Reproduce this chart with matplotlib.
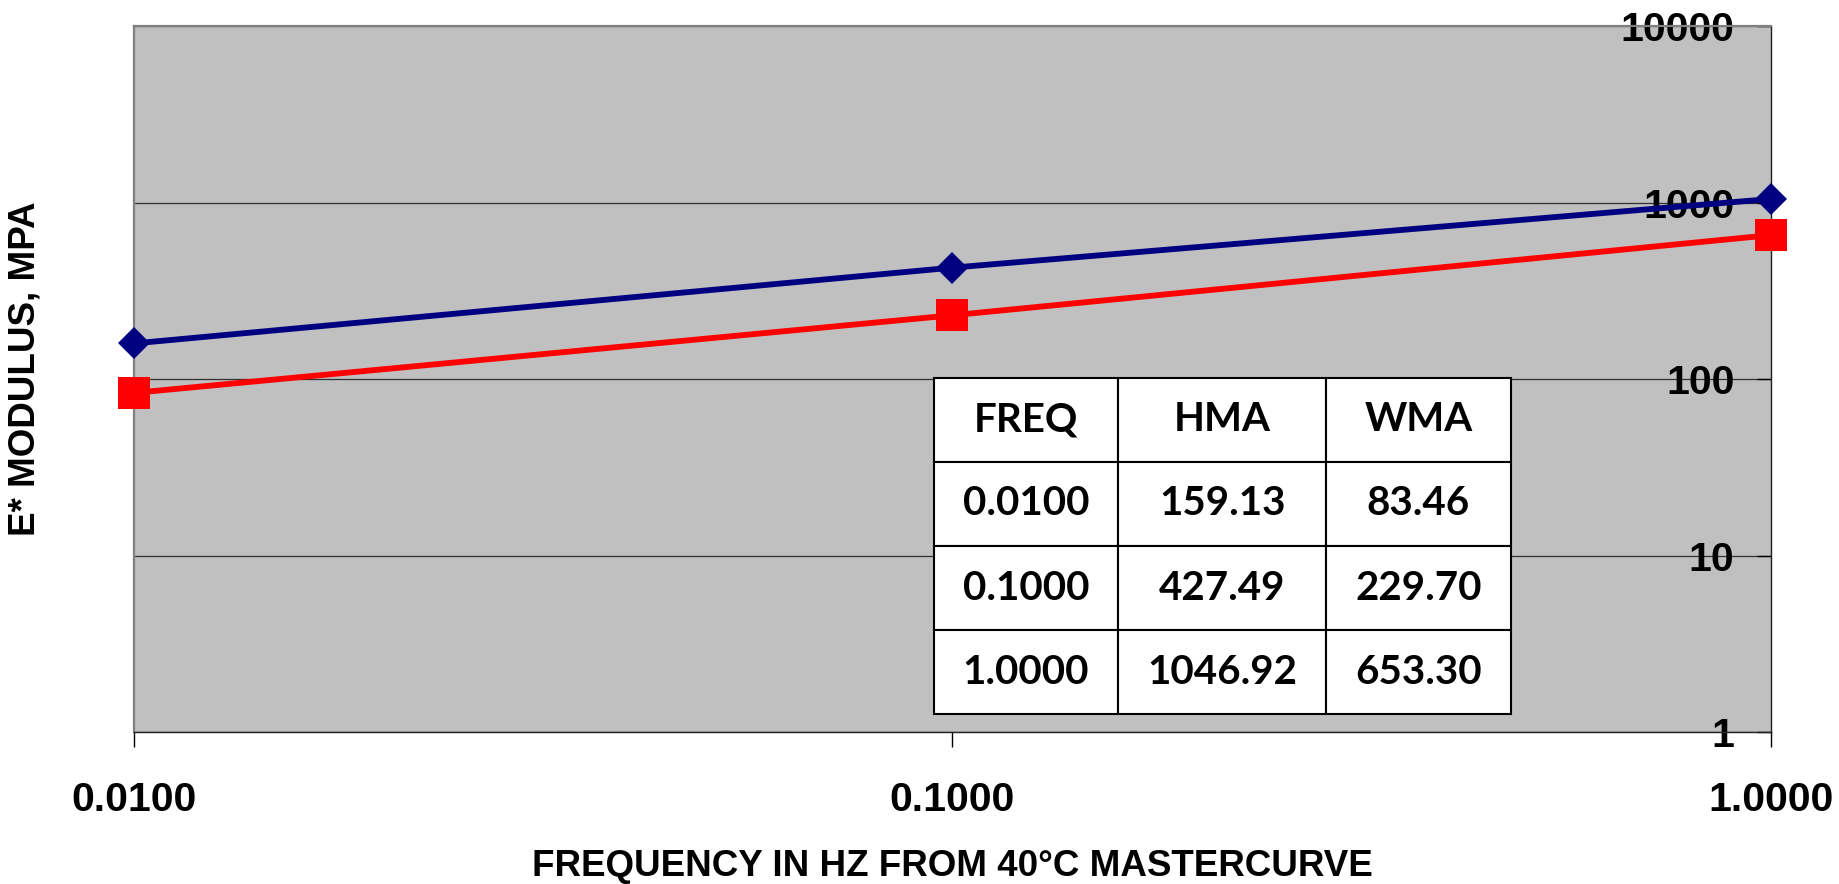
import matplotlib
matplotlib.use("Agg")
import matplotlib.pyplot as plt
from matplotlib.ticker import FixedLocator, NullLocator

# Data
freq = [0.01, 0.1, 1.0]
hma = [159.13, 427.49, 1046.92]
wma = [83.46, 229.70, 653.30]
x_tick_labels = ["0.0100", "0.1000", "1.0000"]
y_ticks = [1, 10, 100, 1000, 10000]
y_tick_labels = ["1", "10", "100", "1000", "10000"]
table_header = ["FREQ", "HMA", "WMA"]

plt.rcParams['font.family'] = ['Liberation Sans', 'DejaVu Sans']

fig = plt.figure(figsize=(18.39, 8.84), dpi=100)
ax = fig.add_axes([0.0729, 0.1719, 0.8899, 0.7987])
ax.set_facecolor('#C0C0C0')

ax.set_xscale('log')
ax.set_yscale('log')
ax.set_xlim(0.01, 1.0)
ax.set_ylim(1, 10000)

ax.plot(freq, hma, color='#000080', lw=4.2, marker='D', ms=16.8,
        markeredgewidth=0, clip_on=False, zorder=5)
ax.plot(freq, wma, color='#FF0000', lw=4.2, marker='s', ms=23.5,
        markeredgewidth=0, clip_on=False, zorder=5)

# x axis
ax.xaxis.set_major_locator(FixedLocator(freq))
ax.xaxis.set_minor_locator(NullLocator())
ax.set_xticklabels(x_tick_labels)
ax.tick_params(axis='x', direction='out', length=11, width=1, color='black',
               pad=24, labelsize=29.5)
for lab in ax.get_xticklabels():
    lab.set_fontweight('bold')

# y axis on the right, labels inside
ax.yaxis.tick_right()
ax.yaxis.set_major_locator(FixedLocator(y_ticks))
ax.yaxis.set_minor_locator(NullLocator())
ax.set_yticklabels(y_tick_labels)
ax.tick_params(axis='y', direction='in', length=10, width=1, color='black',
               pad=-26, labelsize=29.5)
for lab in ax.get_yticklabels():
    lab.set_fontweight('bold')
    lab.set_horizontalalignment('right')

ax.grid(axis='y', which='major', color='#303030', lw=0.9)
ax.set_axisbelow(True)

for side in ['left', 'top']:
    ax.spines[side].set_color('#808080')
    ax.spines[side].set_linewidth(1.6)
for side in ['right', 'bottom']:
    ax.spines[side].set_color('#202020')
    ax.spines[side].set_linewidth(1.0)

ax.set_xlabel("FREQUENCY IN HZ FROM 40°C MASTERCURVE", fontsize=26.5,
              fontweight='bold')
ax.xaxis.set_label_coords(0.5, -0.165)
ax.yaxis.set_label_position('left')
ax.set_ylabel("E* MODULUS, MPA", fontsize=26.5, fontweight='bold')
ax.yaxis.set_label_coords(-0.056, 0.514)

# table
cell_text = [[x_tick_labels[i], f"{hma[i]:.2f}", f"{wma[i]:.2f}"] for i in range(len(freq))]
tbl = ax.table(cellText=[table_header] + cell_text,
               colWidths=[0.3194, 0.3611, 0.3195],
               cellLoc='center',
               bbox=[0.4887, 0.0255, 0.3524, 0.4760])
tbl.auto_set_font_size(False)
for (r, c), cell in tbl.get_celld().items():
    cell.set_facecolor('white')
    cell.set_edgecolor('black')
    cell.set_linewidth(1.5)
    cell.get_text().set_fontsize(29)
    cell.get_text().set_fontweight('bold')
    cell.get_text().set_fontfamily(['Lato', 'DejaVu Sans'])
tbl.set_zorder(10)

fig.savefig('out.png', dpi=100)
